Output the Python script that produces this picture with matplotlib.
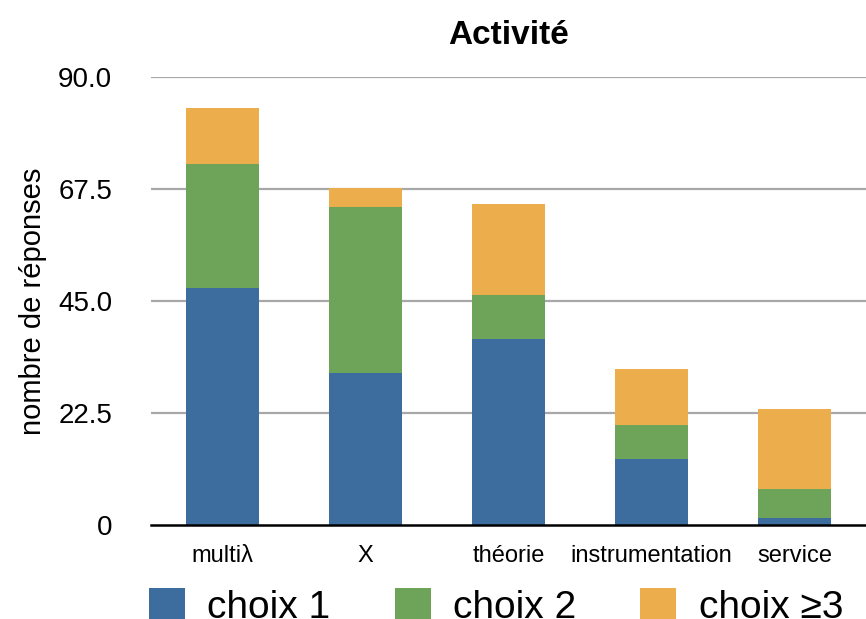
import matplotlib
matplotlib.use("Agg")
import matplotlib.pyplot as plt
import numpy as np

plt.rcParams["font.family"] = ["Liberation Sans", "DejaVu Sans"]

# Responses per activity, stacked by choice rank
CATEGORIES = ["multiλ", "X", "théorie", "instrumentation", "service"]
CHOIX_1 = [47.7, 30.6, 37.4, 13.3, 1.5]
CHOIX_2 = [24.9, 33.3, 8.9, 6.8, 5.8]
CHOIX_3 = [11.2, 3.9, 18.2, 11.3, 16.1]
SERIES = ["choix 1", "choix 2", "choix ≥3"]
COLORS = ["#3D6C9E", "#6DA459", "#ECAE4C"]

Y_TICKS = [0, 22.5, 45.0, 67.5, 90.0]
Y_TICK_LABELS = ["0", "22.5", "45.0", "67.5", "90.0"]


def main() -> None:
    fig = plt.figure(figsize=(8.66, 6.19), dpi=100)
    ax = fig.add_axes([0.1744, 0.1514, 0.8256, 0.7237])

    x = np.arange(len(CATEGORIES))
    bottom = np.zeros(len(CATEGORIES))
    for name, values, color in zip(SERIES, [CHOIX_1, CHOIX_2, CHOIX_3], COLORS):
        ax.bar(x, values, width=0.516, bottom=bottom, color=color,
               label=name, zorder=2)
        bottom += np.array(values)

    ax.set_xlim(-0.5, len(CATEGORIES) - 0.5)
    ax.set_ylim(0, 90)
    ax.set_yticks(Y_TICKS)
    ax.set_yticklabels(Y_TICK_LABELS, fontsize=20)
    ax.set_xticks(x)
    ax.set_xticklabels(CATEGORIES, fontsize=17)
    ax.tick_params(axis="y", length=0, pad=28)
    ax.tick_params(axis="x", length=0, pad=14)

    for y in Y_TICKS[1:]:
        ax.axhline(y, color="#A8A8A8", linewidth=1.6, zorder=1)

    for side in ["top", "right", "left"]:
        ax.spines[side].set_visible(False)
    ax.spines["bottom"].set_color("black")
    ax.spines["bottom"].set_linewidth(1.8)
    ax.spines["bottom"].set_zorder(3)

    ax.set_title("Activité", fontsize=24, fontweight="bold", pad=24)
    ax.set_ylabel("nombre de réponses", fontsize=21, labelpad=8)

    fig.legend(
        loc="upper left",
        bbox_to_anchor=(0.172, 0.050),
        ncol=3,
        frameon=False,
        fontsize=28,
        handlelength=0.93,
        handleheight=0.93,
        handletextpad=0.57,
        columnspacing=1.65,
        borderpad=0,
        borderaxespad=0,
    )

    fig.savefig("out.png", dpi=100)
    plt.close(fig)


if __name__ == "__main__":
    main()
